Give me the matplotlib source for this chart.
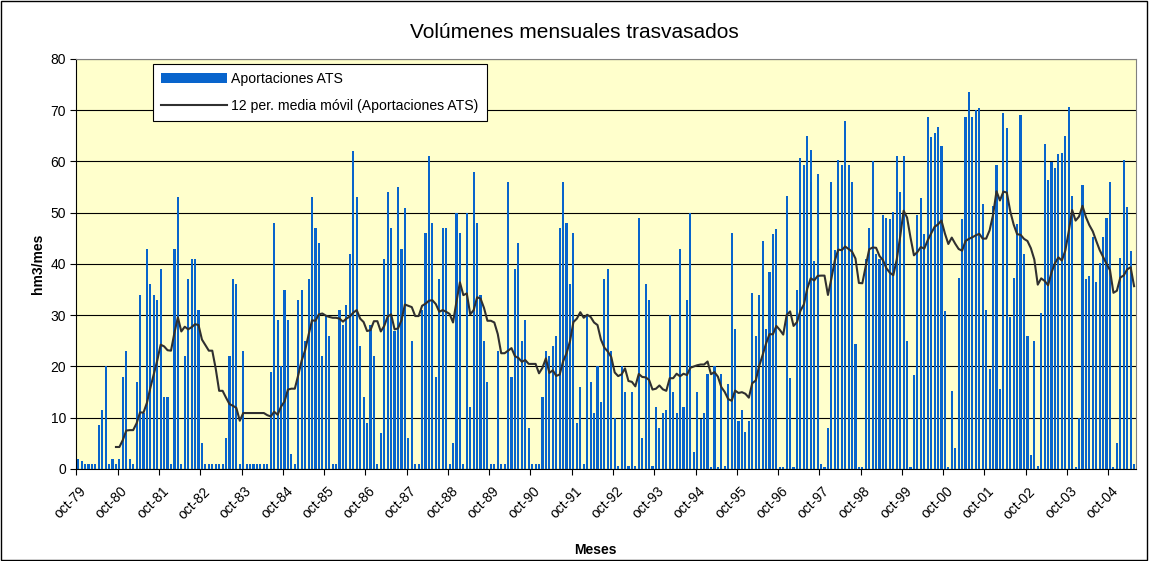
import numpy as np
import pandas as pd
import matplotlib.pyplot as plt
import matplotlib.transforms as mtransforms
from matplotlib.patches import Rectangle

plt.rcParams['font.family'] = ['Liberation Sans', 'DejaVu Sans']

# --- datos: aportaciones mensuales (hm3/mes), desde oct-79 ---
aportaciones = [
    # oct-79 .. sep-80
    2, 1.5, 1, 1, 1, 1, 8.5, 11.5, 20, 1, 2, 1,
    # oct-80 .. sep-81
    2, 18, 23, 2, 1, 17, 34, 11, 43, 36, 34, 33,
    # oct-81 .. sep-82
    39, 14, 14, 1, 43, 53, 1, 22, 37, 41, 41, 31,
    # oct-82 .. sep-83
    5, 1, 1, 1, 1, 1, 1, 6, 22, 37, 36, 1,
    # oct-83 .. sep-84
    23, 1, 1, 1, 1, 1, 1, 1, 19, 48, 29, 20,
    # oct-84 .. sep-85
    35, 29, 3, 1, 33, 35, 25, 37, 53, 47, 44, 22,
    # oct-85 .. sep-86
    30, 26, 1, 1, 31, 28, 32, 42, 62, 53, 24, 14,
    # oct-86 .. sep-87
    9, 28, 22, 1, 7, 41, 54, 47, 27, 55, 43, 51,
    # oct-87 .. sep-88
    6, 25, 1, 1, 31, 46, 61, 48, 18, 37, 47, 47,
    # oct-88 .. sep-89
    1, 5, 50, 46, 1, 50, 12, 58, 48, 34, 25, 17,
    # oct-89 .. sep-90
    1, 1, 23, 1, 1, 56, 18, 39, 44, 25, 29, 8,
    # oct-90 .. sep-91
    1, 1, 1, 14, 23, 22, 24, 26, 47, 56, 48, 36,
    # oct-91 .. sep-92
    46, 9, 16, 1, 30, 17, 11, 20, 13, 37, 39, 23,
    # oct-92 .. sep-93
    10, 0.5, 20, 15, 0.5, 15, 0.5, 49, 6, 36, 33, 0.5,
    # oct-93 .. sep-94
    12, 8, 11, 11.5, 30, 15, 11, 43, 12, 33, 50, 3.4,
    # oct-94 .. sep-95
    15, 9.7, 11, 18.5, 0.3, 20, 0.3, 18.5, 0.5, 16.5, 46, 27.3,
    # oct-95 .. sep-96
    9.4, 11.5, 7.3, 9.4, 34.3, 26, 34, 44.5, 27.4, 38.5, 45.8, 46.8,
    # oct-96 .. sep-97
    0.3, 0.3, 53.3, 17.7, 0.3, 34.9, 60.6, 59.3, 65, 62.2, 40.6, 57.5,
    # oct-97 .. sep-98
    1, 0.3, 8, 56, 42.7, 60.3, 59.3, 67.9, 59.3, 56, 24.4, 0.3,
    # oct-98 .. sep-99
    0.3, 41, 47, 60, 42, 41, 49.6, 49, 48.8, 50.2, 61, 54,
    # oct-99 .. sep-00
    61, 25, 0.3, 18.3, 49.6, 52.8, 45.8, 68.6, 64.8, 65.6, 66.8, 63,
    # oct-00 .. sep-01
    30.8, 0.3, 15.3, 4, 37.2, 48.8, 68.6, 73.6, 68.6, 70, 70.4, 51.6,
    # oct-01 .. sep-02
    31, 19.6, 51.4, 59.3, 15.7, 69.5, 66.5, 29.7, 37.3, 47.7, 69, 42,
    # oct-02 .. sep-03
    26, 2.7, 25, 0.5, 30.4, 63.4, 56.4, 59.8, 58.8, 61.4, 61.6, 65,
    # oct-03 .. sep-04
    70.6, 53.3, 0.3, 10, 55.4, 37, 37.6, 45.3, 36.4, 40.1, 45.3, 48.9,
    # oct-04 .. may-05
    55.9, 0.3, 5, 41.1, 60.2, 51.2, 42.6, 1,
]

anio_inicio = 79
n_anios = 26
etiquetas_x = ['oct-%02d' % ((anio_inicio + k) % 100) for k in range(n_anios)]
ticks_y = list(range(0, 81, 10))

# media movil de 12 periodos
serie = pd.Series(aportaciones, dtype=float)
media_movil = serie.rolling(12).mean()
meses = np.arange(len(serie))

# --- figura ---
fig = plt.figure(figsize=(11.49, 5.61), dpi=100)
ax = fig.add_axes([0.0665, 0.164, 0.922, 0.731])
ax.set_facecolor('#FFFFCC')

barras = ax.bar(meses, serie, width=0.62, color='#0864CC', edgecolor='none',
                label='Aportaciones ATS', zorder=2)
linea, = ax.plot(meses, media_movil, color='#303030', lw=1.5,
                 label='12 per. media móvil (Aportaciones ATS)', zorder=3)

ax.set_xlim(-0.5, len(serie) - 0.5)
ax.set_ylim(0, 80)
ax.set_yticks(ticks_y)
ax.yaxis.grid(True, color='black', lw=0.8, zorder=1)
ax.set_axisbelow(True)

ax.set_xticks(np.arange(n_anios) * 12 - 0.5)
ax.set_xticklabels(etiquetas_x, rotation=45, ha='right', rotation_mode='anchor')
ax.tick_params(axis='x', direction='out', length=4, labelsize=10, pad=4)
ax.tick_params(axis='y', direction='out', length=4, labelsize=10)
desplaza = mtransforms.ScaledTranslation(2 / 72, -3 / 72, fig.dpi_scale_trans)
for lab in ax.get_xticklabels():
    lab.set_transform(lab.get_transform() + desplaza)

for s in ax.spines.values():
    s.set_color('#808080')
    s.set_linewidth(0.8)
ax.spines['left'].set_color('black')
ax.spines['bottom'].set_color('black')

fig.text(0.5, 1 - 33 / 561, 'Volúmenes mensuales trasvasados', fontsize=15,
         ha='center', va='center')
ax.set_ylabel('hm3/mes', fontsize=10, fontweight='bold')
ax.yaxis.set_label_coords(-0.030, 0.5)
ax.set_xlabel('Meses', fontsize=10, fontweight='bold')
ax.xaxis.set_label_coords(0.49, -0.18)

leg = ax.legend([barras, linea], ['Aportaciones ATS', '12 per. media móvil (Aportaciones ATS)'],
                loc='upper left', bbox_to_anchor=(0.072, 0.988), fontsize=10.1,
                frameon=True, fancybox=False, framealpha=1, edgecolor='black',
                handlelength=4.7, handleheight=0.75, handletextpad=0.3,
                labelspacing=0.9, borderpad=0.6, borderaxespad=0)
leg.get_frame().set_linewidth(0.8)

# borde exterior del grafico
fig.patches.append(Rectangle((0.001, 0.001), 0.997, 0.997, transform=fig.transFigure,
                             fill=False, edgecolor='black', lw=1))

fig.savefig('out.png', dpi=100)
